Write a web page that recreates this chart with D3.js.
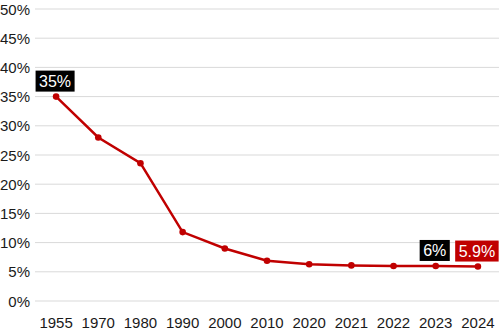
<!DOCTYPE html>
<html lang="en">
<head>
  <meta charset="UTF-8">
  <title>Chart</title>
  <style>
    body { margin: 0; background: #fff; }
    text { font-family: "Liberation Sans", Arial, sans-serif; }
  </style>
</head>
<body>
  <div id="chart"></div>
  <script src="https://cdn.jsdelivr.net/npm/d3@7"></script>
  <script>
    const years = ['1955', '1970', '1980', '1990', '2000', '2010', '2020', '2021', '2022', '2023', '2024'];
    const shares = [35, 28, 23.6, 11.8, 9, 6.9, 6.3, 6.1, 6.0, 6.0, 5.9];
    const yTicks = [0, 5, 10, 15, 20, 25, 30, 35, 40, 45, 50];
    // labelled points: year, text, box colour
    const callouts = [
      { year: '1955', text: '35%', fill: '#000' },
      { year: '2023', text: '6%', fill: '#000' },
      { year: '2024', text: '5.9%', fill: '#c00000' }
    ];

    const width = 501, height = 334;
    const margin = { top: 9, right: 2, bottom: 33, left: 35 };

    const svg = d3.select('#chart').append('svg')
      .attr('width', width)
      .attr('height', height);

    const x = d3.scalePoint()
      .domain(years)
      .range([margin.left, width - margin.right])
      .padding(0.5);

    const y = d3.scaleLinear()
      .domain([0, 50])
      .range([height - margin.bottom, margin.top]);

    // gridlines
    svg.append('g')
      .selectAll('line')
      .data(yTicks)
      .join('line')
      .attr('x1', margin.left)
      .attr('x2', width - margin.right)
      .attr('y1', d => y(d))
      .attr('y2', d => y(d))
      .attr('stroke', '#d9d9d9')
      .attr('stroke-width', 1);

    // y labels
    svg.append('g')
      .selectAll('text')
      .data(yTicks)
      .join('text')
      .attr('x', 30)
      .attr('y', d => y(d) + 5.5)
      .attr('text-anchor', 'end')
      .style('font-size', '15px')
      .attr('fill', '#1a1a1a')
      .text(d => d + '%');

    // x labels
    svg.append('g')
      .selectAll('text')
      .data(years)
      .join('text')
      .attr('x', d => x(d))
      .attr('y', 328)
      .attr('text-anchor', 'middle')
      .style('font-size', '15px')
      .attr('fill', '#1a1a1a')
      .text(d => d);

    const pts = years.map((yr, i) => ({ year: yr, v: shares[i] }));

    svg.append('path')
      .datum(pts)
      .attr('fill', 'none')
      .attr('stroke', '#c00000')
      .attr('stroke-width', 2.5)
      .attr('d', d3.line().x(d => x(d.year)).y(d => y(d.v)));

    svg.append('g')
      .selectAll('circle')
      .data(pts)
      .join('circle')
      .attr('cx', d => x(d.year))
      .attr('cy', d => y(d.v))
      .attr('r', 3.3)
      .attr('fill', '#c00000');

    // callout boxes
    callouts.forEach(c => {
      const v = shares[years.indexOf(c.year)];
      const g = svg.append('g');
      const t = g.append('text')
        .attr('text-anchor', 'middle')
        .style('font-size', '16px')
        .attr('fill', '#fff')
        .text(c.text);
      const w = t.node().getComputedTextLength() + 7;
      let cx = x(c.year) - 1;
      if (cx + w / 2 > width) cx = width - w / 2;
      const top = y(v) - 26;
      g.insert('rect', 'text')
        .attr('x', cx - w / 2)
        .attr('y', top)
        .attr('width', w)
        .attr('height', 21)
        .attr('fill', c.fill);
      t.attr('x', cx).attr('y', top + 16.5);
    });
  </script>
</body>
</html>
